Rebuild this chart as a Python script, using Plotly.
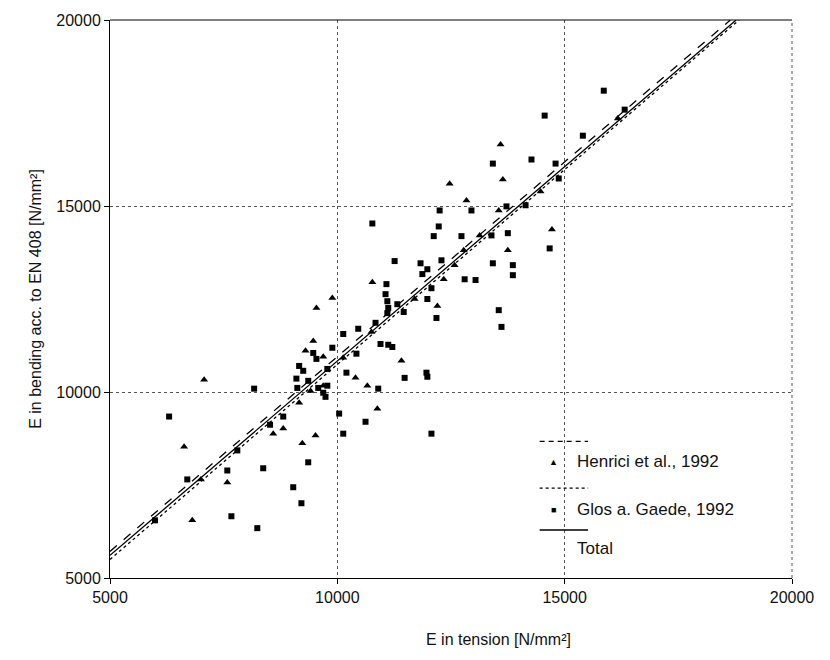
import plotly.graph_objects as go

# ---- data (N/mm^2) ----
henrici_x = [6810, 6630, 7000, 7070, 7580, 8590, 8810, 9230, 9520, 9160, 9300, 9470, 9540, 9410,
             9690, 9690, 9890, 10130, 10400, 10660, 10750, 10880, 10770, 11410, 11700, 12200, 12340,
             12580, 12780, 13750, 14720, 13130, 13550, 12840, 12470, 13640, 13590, 16170, 14470]
henrici_y = [6550, 8530, 7650, 10330, 7570, 8880, 9020, 8620, 8830, 9710, 11110, 11370, 12260, 10030,
             10170, 10950, 12530, 10920, 10380, 10170, 11610, 9550, 12950, 10840, 12500, 12310, 13030,
             13410, 13810, 13810, 14370, 14210, 14880, 15150, 15600, 15710, 16650, 17350, 15390]

glos_x = [5990, 6300, 6700, 7670, 8240, 7580, 7800, 8170, 8370, 8520, 8810, 9030, 9210, 9360,
          9100, 9120, 9160, 9250, 9360, 9470, 9540, 9580, 9690, 9740, 9780, 9890, 9780, 10130,
          10200, 10040, 10130, 10420, 10460, 10620, 10840, 10900, 10950, 11120, 11210, 11080,
          11060, 11100, 11120, 11100, 11320, 11460, 11480, 11960, 11980, 11980, 12070, 12180,
          11980, 11870, 12070, 11830, 12290, 12800, 13040, 13420, 13860, 13860, 13550, 13610,
          14670, 12230, 12120, 12730, 13390, 13750, 12250, 12950, 13720, 14140, 13420, 14270,
          14800, 14560, 15400, 16320, 15860, 14870, 11260, 10770]
glos_y = [6550, 9340, 7650, 6660, 6340, 7890, 8430, 10090, 7950, 9120, 9340, 7440, 7010, 8110,
          10360, 10110, 10700, 10570, 10300, 11050, 10890, 10110, 9980, 9870, 10170, 11190, 10620, 11560,
          10520, 9420, 8880, 11030, 11700, 9200, 11860, 10090, 11290, 11270, 11210, 12900,
          12630, 12440, 12260, 12120, 12360, 12150, 10380, 10520, 10410, 12500, 8880, 11990,
          13300, 13170, 12790, 13460, 13540, 13030, 13010, 13460, 13410, 13140, 12200, 11750,
          13860, 14450, 14190, 14190, 14210, 14270, 14880, 14880, 14990, 15020, 16140, 16250,
          16140, 17430, 16890, 17590, 18100, 15740, 13520, 14530]

# regression lines: slope, intercept
reg_names = ["Henrici et al., 1992", "Glos a. Gaede, 1992", "Total"]
reg_slope = [1.047, 1.048, 1.045]
reg_icpt = [480, 260, 383]
reg_dash = ["dash", "dot", "solid"]

x_range = [5000, 20000]
y_range = [5000, 20000]
tick_vals = [5000, 10000, 15000, 20000]
tick_text = ["5000", "10000", "15000", "20000"]

FONT = "Liberation Sans, Arial, sans-serif"

fig = go.Figure()

for s, b, d, n in zip(reg_slope, reg_icpt, reg_dash, reg_names):
    x_end = (y_range[1] - b) / s
    xs = [x_range[0], x_end]
    ys = [s * x + b for x in xs]
    fig.add_trace(go.Scatter(x=xs, y=ys, mode="lines", name=n, showlegend=False,
                             line=dict(color="black", width=1.3, dash=d)))

fig.add_trace(go.Scatter(x=henrici_x, y=henrici_y, mode="markers", showlegend=False,
                         marker=dict(symbol="triangle-up", size=7, color="black")))
fig.add_trace(go.Scatter(x=glos_x, y=glos_y, mode="markers", showlegend=False,
                         marker=dict(symbol="square", size=6, color="black")))

axis_common = dict(tickvals=tick_vals, ticktext=tick_text, showgrid=True, gridcolor="#555",
                   griddash="dot", gridwidth=1, zeroline=False, showline=True,
                   linecolor="black", linewidth=1, ticks="outside", ticklen=5,
                   tickcolor="black", tickfont=dict(family=FONT, size=16, color="#111"))

fig.update_xaxes(**axis_common, range=x_range)
fig.update_yaxes(**axis_common, range=y_range,
                 title=dict(text="E in bending acc. to EN 408 [N/mm²]", standoff=10,
                            font=dict(family=FONT, size=16, color="#111")))

# x-axis title (sits right of centre in the original)
fig.add_annotation(xref="paper", yref="paper", x=0.57, y=-0.11, yanchor="middle",
                   text="E in tension [N/mm²]", showarrow=False,
                   font=dict(family=FONT, size=16, color="#111"))

# top border (solid) and right border (dotted)
fig.add_shape(type="line", xref="paper", yref="paper", x0=0, x1=1, y0=1, y1=1,
              line=dict(color="black", width=1))
fig.add_shape(type="line", xref="paper", yref="paper", x0=1, x1=1, y0=0, y1=1,
              line=dict(color="#555", width=1, dash="dot"))

# manual legend
lx0, lx1, tx, mx = 0.630, 0.701, 0.682, 0.651
legend_rows = [
    ("line", "5px,4px", 0.245),
    ("marker", "▲", 0.209, "Henrici et al., 1992"),
    ("line", "dot", 0.161),
    ("marker", "■", 0.123, "Glos a. Gaede, 1992"),
    ("line", "solid", 0.086),
    ("text", "", 0.052, "Total"),
]
for row in legend_rows:
    if row[0] == "line":
        fig.add_shape(type="line", xref="paper", yref="paper", x0=lx0, x1=lx1,
                      y0=row[2], y1=row[2], line=dict(color="black", width=1.3, dash=row[1]))
    else:
        if row[1]:
            fig.add_annotation(xref="paper", yref="paper", x=mx, y=row[2], text=row[1],
                               showarrow=False, yanchor="middle",
                               font=dict(size=9, color="black"))
        fig.add_annotation(xref="paper", yref="paper", x=tx, y=row[2], text=row[3],
                           showarrow=False, xanchor="left", yanchor="middle",
                           font=dict(family=FONT, size=17, color="#111"))

fig.update_layout(width=830, height=660, margin=dict(l=110, r=38, t=18, b=82),
                  plot_bgcolor="white", paper_bgcolor="white", showlegend=False)

fig.write_html("out.html")
